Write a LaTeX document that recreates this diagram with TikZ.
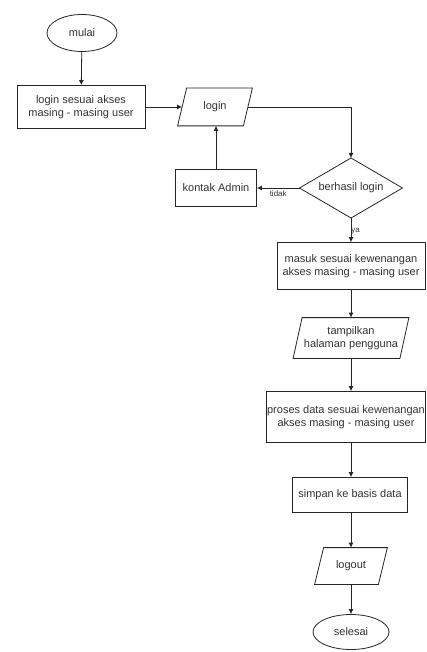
\documentclass[tikz,border=0pt]{standalone}
\usepackage{fontspec}
\setmainfont{Liberation Sans}
\usetikzlibrary{shapes.geometric,arrows.meta}
\tikzset{
  x=1pt, y=-1pt,
  base/.style={draw=black!85, line width=0.8pt, text=black!80, font=\fontsize{11}{13.5}\selectfont, align=center, inner sep=1pt},
  term/.style={base, ellipse},
  proc/.style={base, rectangle},
  iobase/.style={base, draw=none, rectangle},
  flow/.style={draw=black!85, line width=0.8pt, -{Latex[length=5pt,width=5pt]}},
  lbl/.style={text=black!80, font=\fontsize{8}{9}\selectfont, inner sep=1pt}
}
\newcommand\iodraw[1]{\draw[draw=black!85, line width=0.8pt] ([xshift=9pt]#1.north west) -- (#1.north east) -- ([xshift=-9pt]#1.south east) -- (#1.south west) -- cycle;}
\begin{document}
\begin{tikzpicture}
\useasboundingbox (0,0) rectangle (427,652);
\fill[white] (0,0) rectangle (427,652);
\node[term, minimum width=70pt, minimum height=37pt] (mulai) at (82,33) {mulai};
\node[proc, minimum width=128pt, minimum height=43pt] (akses) at (81,107) {login sesuai akses\\masing - masing user};
\node[iobase, minimum width=74pt, minimum height=37pt] (login) at (215,107) {login};
\iodraw{login}
\draw[draw=black!85, line width=0.8pt] (299.5,188) coordinate (dl) -- (351,158) coordinate (dt) -- (402.5,188) coordinate (dr) -- (351,218) coordinate (db) -- cycle;
\node[text=black!80, font=\fontsize{11}{13.5}\selectfont] (berhasil) at (351,188) {berhasil login};
\node[proc, minimum width=81pt, minimum height=37pt] (kontak) at (216,188) {kontak Admin};
\node[proc, minimum width=148pt, minimum height=47pt] (masuk) at (351,266) {masuk sesuai kewenangan\\akses masing - masing user};
\node[iobase, minimum width=115pt, minimum height=40pt] (tampil) at (351,338) {tampilkan\\halaman pengguna};
\iodraw{tampil}
\node[proc, minimum width=158pt, minimum height=51pt] (proses) at (346,417) {proses data sesuai kewenangan\\akses masing - masing user};
\node[proc, minimum width=115pt, minimum height=35pt] (simpan) at (350,495) {simpan ke basis data};
\node[iobase, minimum width=72pt, minimum height=36pt] (logout) at (351,566) {logout};
\iodraw{logout}
\node[term, minimum width=76pt, minimum height=35pt] (selesai) at (351,632) {selesai};

\draw[flow] (mulai) -- (akses);
\draw[flow] (akses.east) -- ([xshift=4.5pt]login.west);
\draw[flow] ([xshift=-4.5pt]login.east) -| (dt);
\draw[flow] (dl) -- node[lbl, below, pos=0.5, yshift=-1pt] {tidak} (kontak.east);
\draw[flow] (kontak.north) -- (kontak.north |- login.south);
\draw[flow] (db) -- node[lbl, right, pos=0.55, xshift=-1pt] {ya} (masuk.north);
\draw[flow] (masuk.south) -- (tampil.north);
\draw[flow] (tampil.south) -- (tampil.south |- proses.north);
\draw[flow] (tampil.south |- proses.south) -- (tampil.south |- simpan.north);
\draw[flow] (tampil.south |- simpan.south) -- (logout.north);
\draw[flow] (logout.south) -- (selesai.north);
\end{tikzpicture}
\end{document}
